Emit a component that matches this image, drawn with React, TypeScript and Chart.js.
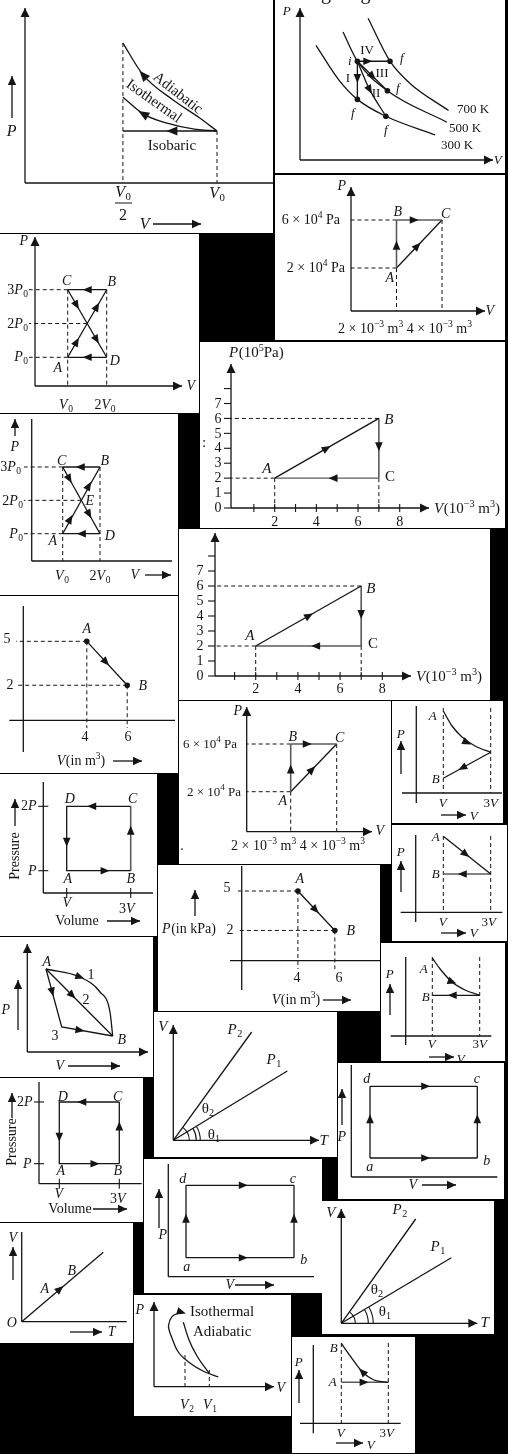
import React, { useEffect, useRef } from "react";
import { Chart, registerables } from "chart.js";
Chart.register(...registerables);

type Pt = [number, number];
type Q = { x?: number; y?: number; px?: number; py?: number };

// ---------------- DATA (in each diagram's own units) ----------------
// Panel 1: V in units of V0, P in units of the initial pressure
const p1Adiabatic: Pt[] = [[0.51, 2.69], [0.615, 2.08], [0.77, 1.6], [0.91, 1.25], [1, 1]];
const p1Isothermal: Pt[] = [[0.51, 1.65], [0.615, 1.33], [0.74, 1.15], [0.875, 1.04], [1, 1]];
const p1Isobaric: Pt[] = [[0.51, 1], [1, 1]];
// Panel 2: isotherms and processes (schematic units)
const p2Iso300: Pt[] = [[1.33, 11.67], [3.73, 8], [5.62, 6], [8.57, 4.23], [13.67, 2.27]];
const p2Iso500: Pt[] = [[4.13, 13.07], [5.62, 10], [8.73, 6.9], [14.9, 3.6]];
const p2Iso700: Pt[] = [[6.73, 14.5], [9, 10], [11.07, 7.67], [15.07, 4.83]];
const p2ProcI: Pt[] = [[5.62, 10], [5.62, 6]];
const p2ProcII: Pt[] = [[5.62, 10], [6.9, 7.0], [8.57, 4.23]];
const p2ProcIII: Pt[] = [[5.62, 10], [8.73, 6.9]];
const p2ProcIV: Pt[] = [[5.62, 10], [9, 10]];
const p2States: Pt[] = [[5.62, 10], [9, 10], [8.73, 6.9], [5.62, 6], [8.57, 4.23]];
// Panel 3: V (1e-3 m3), P (1e4 Pa)
const p3AB: Pt[] = [[2, 2], [2, 6]];
const p3BC: Pt[] = [[2, 6], [4, 6]];
const p3AC: Pt[] = [[2, 2], [4, 6]];
// Panel 4: V (V0), P (P0)
const p4CB: Pt[] = [[2, 3], [1, 3]];
const p4DA: Pt[] = [[2, 1], [1, 1]];
const p4AB: Pt[] = [[1, 1], [2, 3]];
const p4CD: Pt[] = [[1, 3], [2, 1]];
// Panel 5: V (1e-3 m3), P (1e5 Pa)
const p5AB: Pt[] = [[2, 2], [7, 6]];
const p5BC: Pt[] = [[7, 6], [7, 2]];
const p5CA: Pt[] = [[7, 2], [2, 2]];
const p5YTicks = [0, 1, 2, 3, 4, 5, 6, 7, 8];
const p5YLabels = ["0", "1", "2", "3", "4", "5", "6", "7", ""];
const p5XTicks = [1, 2, 3, 4, 5, 6, 7, 8];
const p5XLabels = ["", "2", "", "4", "", "6", "", "8"];
// Panel 6: V (V0), P (P0)
const p6CB: Pt[] = [[2, 3], [1, 3]];
const p6DA: Pt[] = [[2, 1], [1, 1]];
const p6AB: Pt[] = [[1, 1], [2, 3]];
const p6CD: Pt[] = [[1, 3], [2, 1]];
// Panel 7
const p7AB: Pt[] = [[2, 2], [7, 6]];
const p7BC: Pt[] = [[7, 6], [7, 2]];
const p7CA: Pt[] = [[7, 2], [2, 2]];
const p7YTicks = [0, 1, 2, 3, 4, 5, 6, 7, 8];
const p7YLabels = ["0", "1", "2", "3", "4", "5", "6", "7", ""];
const p7XTicks = [1, 2, 3, 4, 5, 6, 7, 8];
const p7XLabels = ["", "2", "", "4", "", "6", "", "8"];
// Panel 8: V (m3), P
const p8AB: Pt[] = [[4, 5], [6, 2]];
// Panel 9: V (1e-3 m3), P (1e4 Pa)
const p9AB: Pt[] = [[2, 2], [2, 6]];
const p9BC: Pt[] = [[2, 6], [4, 6]];
const p9AC: Pt[] = [[2, 2], [4, 6]];
// Panel 10: V (V), P schematic
const p10Curve: Pt[] = [[1, 8.2], [1.37, 6.7], [1.79, 5.6], [2.34, 4.7], [3, 4.07]];
const p10Line: Pt[] = [[3, 4.07], [1, 1.47]];
// Panel 11: V (V), P (P)
const p11Cycle: Pt[] = [[3, 2], [1, 2], [1, 1], [3, 1]];
const p11BC: Pt[] = [[3, 1], [3, 2]];
// Panel 12
const p12AL: Pt[] = [[1, 7.6], [3, 3.83]];
const p12LB: Pt[] = [[3, 3.83], [1, 3.83]];
// Panel 13: V (m3), P (kPa)
const p13AB: Pt[] = [[4, 5], [6, 2]];
// Panel 14: paths 1, 2, 3 (schematic)
const p14Path1: Pt[] = [[1.87, 8.3], [5.27, 7.5], [7.27, 6.0], [8.27, 4.0], [8.54, 1.6]];
const p14Path2: Pt[] = [[1.87, 8.3], [8.54, 1.6]];
const p14Path3: Pt[] = [[1.87, 8.3], [3.44, 2.5], [8.54, 1.6]];
// Panel 15
const p15Curve: Pt[] = [[1, 7.8], [1.33, 6.7], [1.83, 5.4], [2.38, 4.6], [3, 4.07]];
const p15Line: Pt[] = [[3, 4.07], [1, 4.07]];
// Panel 16: V-T isobars
const p16P2: Pt[] = [[0, 0], [7.84, 10.83]];
const p16P1: Pt[] = [[0, 0], [11.4, 6.93]];
// Panel 17: rectangle cycle
const p17ab: Pt[] = [[1.87, 1.9], [12.6, 1.9]];
const p17bc: Pt[] = [[12.6, 1.9], [12.6, 9.07]];
const p17ad: Pt[] = [[1.87, 1.9], [1.87, 9.07]];
const p17dc: Pt[] = [[1.87, 9.07], [12.6, 9.07]];
// Panel 18
const p18Cycle: Pt[] = [[3, 2], [1, 2], [1, 1], [3, 1]];
const p18BC: Pt[] = [[3, 1], [3, 2]];
// Panel 19
const p19ab: Pt[] = [[1.77, 1.9], [12.57, 1.9]];
const p19bc: Pt[] = [[12.57, 1.9], [12.57, 9.14]];
const p19ad: Pt[] = [[1.77, 1.9], [1.77, 9.14]];
const p19dc: Pt[] = [[1.77, 9.14], [12.57, 9.14]];
// Panel 20
const p20P2: Pt[] = [[0, 0], [7.44, 10.43]];
const p20P1: Pt[] = [[0, 0], [11, 6.56]];
// Panel 21
const p21Line: Pt[] = [[0, 0], [8.16, 6.94]];
// Panel 22
const p22Adiabatic: Pt[] = [[2.93, 6.44], [3.5, 4.67], [4.3, 3.07], [5.53, 1.34]];
const p22Isothermal: Pt[] = [[1.6, 5.37], [2.3, 3.67], [3.6, 2.37], [5.1, 1.47], [6.43, 0.97]];
const p22Hook: Pt[] = [[1.6, 5.37], [1.45, 6.1], [1.8, 7.0], [2.5, 7.4]];
// Panel 23
const p23Curve: Pt[] = [[1, 8], [1.4, 6.66], [1.89, 5.16], [2.39, 4.33], [3, 4.1]];
const p23Line: Pt[] = [[1, 4.1], [3, 4.1]];

// ---------------- LAYOUT / STYLE ----------------
const INK = "#151515";
const GRAY = "#5a5a5a";
const FONT = '"Liberation Serif","DejaVu Serif",serif';

interface LineSpec { pts: Pt[]; dash?: boolean; color?: string; smooth?: number; mono?: boolean; w?: number }
interface ArrowSpec { at: Pt; d: Pt }
interface TextSpec { p: Pt; s: string; a?: "l" | "c" | "r"; r?: number; f?: number }
interface TickSpec { axis: "x" | "y"; vals: number[]; labels?: string[]; at: number; lo: number; hi: number; lab?: number }
interface ArcSpec { c: Pt; r: number; p1: Pt; p2: Pt }
interface Panel {
  box: [number, number, number, number];
  xc: [number, number, number, number];
  yc: [number, number, number, number];
  fs: number;
  ah?: [number, number];
  lines: LineSpec[];
  dots?: Pt[];
  arrows?: ArrowSpec[];
  guides?: [Q, Q][];
  axes?: { a: Pt; b: Pt; arrow?: boolean }[];
  labelArrows?: [Pt, Pt][];
  bars?: [Pt, Pt][];
  ticks?: TickSpec[];
  arcs?: ArcSpec[];
  texts: TextSpec[];
}

const PANELS: Panel[] = [
  // 1
  {
    box: [0, 0, 273, 233], xc: [25, 0, 217, 1], yc: [183, 0, 131, 1], fs: 16, ah: [11, 4.5],
    lines: [{ pts: p1Adiabatic, mono: true }, { pts: p1Isothermal, mono: true }, { pts: p1Isobaric }],
    arrows: [{ at: [0.615, 2.08], d: [-0.26, 1.09] }, { at: [0.615, 1.33], d: [-0.23, 0.5] }, { at: [0.765, 1], d: [-1, 0] }],
    guides: [[{ x: 0.51, y: 2.69 }, { x: 0.51, py: 183 }], [{ x: 1, y: 1 }, { x: 1, py: 183 }]],
    axes: [{ a: [25, 183], b: [25, 8], arrow: true }, { a: [25, 183], b: [273, 183] }],
    labelArrows: [[[153, 224], [201, 224]], [[12, 118], [12, 76]]],
    bars: [[[115, 203], [132, 203]]],
    texts: [
      { p: [123, 192], s: "~V~_{0}" }, { p: [123, 215], s: "2" }, { p: [217, 193], s: "~V~_{0}" },
      { p: [145, 224], s: "~V" }, { p: [12, 131], s: "~P" },
      { p: [178, 93], s: "Adiabatic", r: 38, f: 15 }, { p: [154, 101], s: "Isothermal", r: 35, f: 15 },
      { p: [172, 146], s: "Isobaric", f: 15 },
    ],
  },
  // 2
  {
    box: [275, 0, 505, 173], xc: [300, 0, 400, 10], yc: [160, 0, 60, 10], fs: 13,
    lines: [
      { pts: p2Iso300, mono: true }, { pts: p2Iso500, mono: true }, { pts: p2Iso700, mono: true },
      { pts: p2ProcI }, { pts: p2ProcII, smooth: 0.3 }, { pts: p2ProcIII }, { pts: p2ProcIV },
    ],
    dots: p2States,
    arrows: [{ at: [6.7, 10], d: [1, 0] }, { at: [5.62, 8.2], d: [0, -1] }, { at: [7.2, 8.42], d: [3.11, -3.1] }, { at: [6.9, 7.0], d: [1.2, -2.2] }],
    axes: [{ a: [300, 160], b: [300, 8], arrow: true }, { a: [300, 160], b: [493, 160], arrow: true }],
    texts: [
      { p: [359, -7], s: "ng diagram:", f: 20 },
      { p: [287, 11], s: "~P" }, { p: [498, 160], s: "~V" },
      { p: [457, 109], s: "700 K", a: "l" }, { p: [449, 128], s: "500 K", a: "l" }, { p: [441, 145], s: "300 K", a: "l" },
      { p: [367, 50], s: "IV" }, { p: [348, 78], s: "I" }, { p: [382, 73], s: "III" }, { p: [376, 93], s: "II" },
      { p: [350, 61], s: "~i" }, { p: [402, 58], s: "~f" }, { p: [398, 88], s: "~f" }, { p: [353, 113], s: "~f" }, { p: [386, 130], s: "~f" },
    ],
  },
  // 3
  {
    box: [275, 175, 505, 340], xc: [351, 0, 442, 4], yc: [268, 2, 220, 6], fs: 14,
    lines: [{ pts: p3AB, color: GRAY, w: 1.6 }, { pts: p3BC, color: GRAY, w: 1.6 }, { pts: p3AC }],
    arrows: [{ at: [2.78, 6], d: [1, 0] }, { at: [2, 3.9], d: [0, 1] }, { at: [2.92, 3.84], d: [1, 2] }],
    guides: [
      [{ x: 2, y: 6 }, { px: 351, y: 6 }], [{ x: 2, y: 2 }, { px: 351, y: 2 }],
      [{ x: 2, y: 2 }, { x: 2, py: 311 }], [{ x: 4, y: 6 }, { x: 4, py: 311 }],
    ],
    axes: [{ a: [351, 311], b: [351, 187], arrow: true }, { a: [351, 311], b: [485, 311], arrow: true }],
    texts: [
      { p: [340, 220], s: "6 × 10^{4} Pa", a: "r" }, { p: [345, 268], s: "2 × 10^{4} Pa", a: "r" },
      { p: [398, 212], s: "~B" }, { p: [446, 214], s: "~C" }, { p: [390, 278], s: "~A" },
      { p: [342, 186], s: "~P" }, { p: [490, 311], s: "~V" },
      { p: [405, 329], s: "2 × 10^{−3} m^{3} 4 × 10^{−3} m^{3}" },
    ],
  },
  // 4
  {
    box: [0, 234, 199, 413], xc: [67.7, 1, 106.7, 2], yc: [357.3, 1, 289.7, 3], fs: 14,
    lines: [{ pts: p4CB }, { pts: p4DA }, { pts: p4AB }, { pts: p4CD }],
    arrows: [
      { at: [1.5, 3], d: [-1, 0] }, { at: [1.5, 1], d: [-1, 0] },
      { at: [1.23, 1.46], d: [1, 2] }, { at: [1.75, 2.5], d: [1, 2] },
      { at: [1.23, 2.54], d: [1, -2] }, { at: [1.74, 1.52], d: [1, -2] },
    ],
    guides: [
      [{ x: 1, y: 3 }, { px: 29, y: 3 }], [{ x: 1.5, y: 2 }, { px: 29, y: 2 }], [{ x: 1, y: 1 }, { px: 29, y: 1 }],
      [{ x: 1, y: 3 }, { x: 1, py: 386 }], [{ x: 2, y: 3 }, { x: 2, py: 386 }],
    ],
    axes: [{ a: [35, 386], b: [35, 237], arrow: true }, { a: [35, 386], b: [182, 386], arrow: true }],
    texts: [
      { p: [28, 290], s: "3~P~_{0}", a: "r" }, { p: [28, 324], s: "2~P~_{0}", a: "r" }, { p: [28, 357], s: "~P~_{0}", a: "r" },
      { p: [67, 281], s: "~C" }, { p: [112, 282], s: "~B" }, { p: [58, 368], s: "~A" }, { p: [115, 361], s: "~D" },
      { p: [66, 405], s: "~V~_{0}" }, { p: [105, 405], s: "2~V~_{0}" }, { p: [191, 386], s: "~V" }, { p: [24, 241], s: "~P" },
    ],
  },
  // 5
  {
    box: [200, 342, 505, 528], xc: [274.7, 2, 399.7, 8], yc: [508, 0, 403.5, 7], fs: 15,
    lines: [{ pts: p5AB }, { pts: p5BC, color: GRAY, w: 1.6 }, { pts: p5CA, color: GRAY, w: 1.4 }],
    arrows: [{ at: [4.5, 4], d: [5, 4] }, { at: [7, 4.1], d: [0, -1] }, { at: [4.8, 2], d: [-1, 0] }],
    guides: [
      [{ x: 7, y: 6 }, { px: 231, y: 6 }], [{ x: 2, y: 2 }, { px: 231, y: 2 }],
      [{ x: 2, y: 2 }, { x: 2, py: 508 }], [{ x: 7, y: 2 }, { x: 7, py: 508 }],
    ],
    axes: [{ a: [231, 508], b: [231, 364], arrow: true }, { a: [231, 508], b: [429, 508], arrow: true }],
    ticks: [
      { axis: "y", vals: p5YTicks, labels: p5YLabels, at: 231, lo: -7, hi: 0, lab: 218 },
      { axis: "x", vals: p5XTicks, labels: p5XLabels, at: 508, lo: -4, hi: 4, lab: 522 },
    ],
    texts: [
      { p: [229, 353], s: "~P~(10^{5}Pa)", a: "l" }, { p: [434, 509], s: "~V~(10^{−3} m^{3})", a: "l" },
      { p: [267, 469], s: "~A" }, { p: [389, 420], s: "~B" }, { p: [390, 477], s: "C" }, { p: [204, 443], s: ":" },
    ],
  },
  // 6
  {
    box: [0, 414, 178, 595], xc: [62.7, 1, 100, 2], yc: [533.7, 1, 467, 3], fs: 14,
    lines: [{ pts: p6CB }, { pts: p6DA }, { pts: p6AB }, { pts: p6CD }],
    arrows: [
      { at: [1.47, 3], d: [-1, 0] }, { at: [1.5, 1], d: [-1, 0] },
      { at: [1.2, 1.44], d: [1, 2] }, { at: [1.7, 2.44], d: [1, 2] },
      { at: [1.18, 2.64], d: [1, -2] }, { at: [1.71, 1.58], d: [1, -2] },
    ],
    guides: [
      [{ x: 1, y: 3 }, { px: 24, y: 3 }], [{ x: 1.5, y: 2 }, { px: 24, y: 2 }], [{ x: 1, y: 1 }, { px: 24, y: 1 }],
      [{ x: 1, y: 3 }, { x: 1, py: 561 }], [{ x: 2, y: 3 }, { x: 2, py: 561 }],
    ],
    axes: [{ a: [31.7, 561], b: [31.7, 419] }, { a: [31.7, 561], b: [172, 561] }],
    labelArrows: [[[145, 575], [171, 575]], [[15, 436], [15, 419]]],
    texts: [
      { p: [21, 467], s: "3~P~_{0}", a: "r" }, { p: [23, 501], s: "2~P~_{0}", a: "r" }, { p: [23, 534], s: "~P~_{0}", a: "r" },
      { p: [62, 461], s: "~C" }, { p: [105, 461], s: "~B" }, { p: [53, 541], s: "~A" }, { p: [110, 536], s: "~D" },
      { p: [90, 501], s: "~E" }, { p: [62, 576], s: "~V~_{0}" }, { p: [100, 576], s: "2~V~_{0}" },
      { p: [135, 575], s: "~V" }, { p: [15, 447], s: "~P" },
    ],
  },
  // 7
  {
    box: [179, 529, 490, 700], xc: [255.7, 2, 382.3, 8], yc: [676, 0, 571, 7], fs: 15,
    lines: [{ pts: p7AB }, { pts: p7BC, color: GRAY, w: 1.6 }, { pts: p7CA, color: GRAY, w: 1.4 }],
    arrows: [{ at: [4.53, 4.02], d: [5, 4] }, { at: [7, 4.1], d: [0, -1] }, { at: [4.84, 2], d: [-1, 0] }],
    guides: [
      [{ x: 7, y: 6 }, { px: 215, y: 6 }], [{ x: 2, y: 2 }, { px: 215, y: 2 }],
      [{ x: 2, y: 2 }, { x: 2, py: 676 }], [{ x: 7, y: 2 }, { x: 7, py: 676 }],
    ],
    axes: [{ a: [215, 676], b: [215, 533], arrow: true }, { a: [215, 676], b: [411, 676], arrow: true }],
    ticks: [
      { axis: "y", vals: p7YTicks, labels: p7YLabels, at: 215, lo: -7, hi: 0, lab: 200 },
      { axis: "x", vals: p7XTicks, labels: p7XLabels, at: 676, lo: -4, hi: 4, lab: 689 },
    ],
    texts: [
      { p: [250, 636], s: "~A" }, { p: [371, 589], s: "~B" }, { p: [373, 644], s: "C" },
      { p: [416, 677], s: "~V~(10^{−3} m^{3})", a: "l" },
    ],
  },
  // 8
  {
    box: [0, 596, 178, 773], xc: [86.7, 4, 129, 6], yc: [639.3, 5, 685.3, 2], fs: 14,
    lines: [{ pts: p8AB }],
    dots: p8AB,
    arrows: [{ at: [4.95, 3.58], d: [2, -3] }],
    guides: [
      [{ x: 4, y: 5 }, { px: 16, y: 5 }], [{ x: 6, y: 2 }, { px: 16, y: 2 }],
      [{ x: 4, y: 5 }, { x: 4, py: 728 }], [{ x: 6, y: 2 }, { x: 6, py: 728 }],
    ],
    axes: [{ a: [23.3, 606], b: [23.3, 752] }, { a: [9.3, 720.3], b: [175, 720.3] }],
    labelArrows: [[[113, 761], [142, 761]]],
    texts: [
      { p: [7, 639], s: "5" }, { p: [10, 685], s: "2" }, { p: [87, 629], s: "~A" }, { p: [143, 686], s: "~B" },
      { p: [85, 737], s: "4" }, { p: [128, 737], s: "6" }, { p: [81, 761], s: "~V~(in m^{3})" },
    ],
  },
  // 9
  {
    box: [179, 701, 391, 864], xc: [290.7, 2, 336.7, 4], yc: [791.7, 2, 744, 6], fs: 14,
    lines: [{ pts: p9AB, color: GRAY, w: 1.6 }, { pts: p9BC, color: GRAY, w: 1.6 }, { pts: p9AC }],
    arrows: [{ at: [2.72, 6], d: [1, 0] }, { at: [2, 3.9], d: [0, 1] }, { at: [2.93, 3.86], d: [1, 2] }],
    guides: [
      [{ x: 2, y: 6 }, { px: 246.7, y: 6 }], [{ x: 2, y: 2 }, { px: 246.7, y: 2 }],
      [{ x: 2, y: 2 }, { x: 2, py: 831.7 }], [{ x: 4, y: 6 }, { x: 4, py: 831.7 }],
    ],
    axes: [{ a: [246.7, 831.7], b: [246.7, 707], arrow: true }, { a: [246.7, 831.7], b: [372, 831.7], arrow: true }],
    texts: [
      { p: [237, 744], s: "6 × 10^{4} Pa", a: "r", f: 13 }, { p: [241, 792], s: "2 × 10^{4} Pa", a: "r", f: 13 },
      { p: [293, 737], s: "~B" }, { p: [340, 738], s: "~C" }, { p: [283, 801], s: "~A" },
      { p: [238, 711], s: "~P" }, { p: [380, 831], s: "~V" },
      { p: [298, 846], s: "2 × 10^{−3} m^{3} 4 × 10^{−3} m^{3}" }, { p: [182, 846], s: "." },
    ],
  },
  // 10
  {
    box: [392, 701, 503, 823], xc: [443.3, 1, 490.7, 3], yc: [793, 0, 743, 5], fs: 13,
    lines: [{ pts: p10Curve, mono: true }, { pts: p10Line }],
    arrows: [{ at: [2.0, 5.05], d: [1, -1.1] }, { at: [1.8, 2.51], d: [-2, -2.6] }],
    guides: [[{ x: 1, py: 708 }, { x: 1, py: 793 }], [{ x: 3, py: 708 }, { x: 3, py: 793 }]],
    axes: [{ a: [416.3, 706], b: [416.3, 803] }, { a: [402, 793], b: [502, 793] }],
    labelArrows: [[[441, 815], [466, 815]], [[401, 774], [401, 741]]],
    texts: [
      { p: [433, 716], s: "~A" }, { p: [436, 779], s: "~B" }, { p: [443, 803], s: "~V" }, { p: [491, 803], s: "3~V" },
      { p: [474, 816], s: "~V" }, { p: [401, 734], s: "~P" },
    ],
  },
  // 11
  {
    box: [0, 774, 157, 936], xc: [66.7, 1, 130.7, 3], yc: [870.7, 1, 806.3, 2], fs: 14,
    lines: [{ pts: p11Cycle }, { pts: p11BC, color: GRAY, w: 1.6 }],
    arrows: [{ at: [1.78, 2], d: [-1, 0] }, { at: [1, 1.44], d: [0, -1] }, { at: [2.2, 1], d: [1, 0] }, { at: [3, 1.63], d: [0, 1] }],
    axes: [{ a: [43.3, 893], b: [43.3, 782] }, { a: [43.3, 893], b: [153, 893] }],
    ticks: [
      { axis: "y", vals: [1, 2], at: 43.3, lo: -5, hi: 5 },
      { axis: "x", vals: [1, 3], at: 893, lo: -5, hi: 5 },
    ],
    labelArrows: [[[107, 921], [140, 921]], [[15, 826], [15, 799]]],
    texts: [
      { p: [37, 806], s: "2~P", a: "r" }, { p: [37, 871], s: "~P", a: "r" },
      { p: [70, 799], s: "~D" }, { p: [133, 799], s: "~C" }, { p: [68, 879], s: "~A" }, { p: [131, 879], s: "~B" },
      { p: [67, 903], s: "~V" }, { p: [127, 909], s: "3~V" }, { p: [77, 921], s: "Volume" },
      { p: [15, 856], s: "Pressure", r: -90 },
    ],
  },
  // 12
  {
    box: [392, 825, 507, 941], xc: [443.3, 1, 490.7, 3], yc: [912.3, 0, 862.3, 5], fs: 13,
    lines: [{ pts: p12AL }, { pts: p12LB, color: GRAY, w: 1.6 }],
    arrows: [{ at: [1.95, 5.8], d: [2, -3.77] }, { at: [1.8, 3.83], d: [-1, 0] }],
    guides: [[{ x: 1, py: 836 }, { x: 1, py: 912 }], [{ x: 3, py: 836 }, { x: 3, py: 912 }]],
    axes: [{ a: [415.7, 835], b: [415.7, 922] }, { a: [400.7, 912.3], b: [502.3, 912.3] }],
    labelArrows: [[[441, 933], [466, 933]], [[401, 892], [401, 861]]],
    texts: [
      { p: [436, 837], s: "~A" }, { p: [436, 874], s: "~B" }, { p: [443, 922], s: "~V" }, { p: [489, 922], s: "3~V" },
      { p: [474, 933], s: "~V" }, { p: [401, 852], s: "~P" },
    ],
  },
  // 13
  {
    box: [158, 865, 380, 1011], xc: [299, 4, 337.3, 6], yc: [888.3, 5, 930, 2], fs: 14,
    lines: [{ pts: p13AB }],
    dots: p13AB,
    arrows: [{ at: [4.96, 3.56], d: [2, -3] }],
    guides: [
      [{ x: 4, y: 5 }, { px: 237, y: 5 }], [{ x: 6, y: 2 }, { px: 237, y: 2 }],
      [{ x: 4, y: 5 }, { x: 4, py: 969 }], [{ x: 6, y: 2 }, { x: 6, py: 969 }],
    ],
    axes: [{ a: [241.7, 866], b: [241.7, 990] }, { a: [230, 960.7], b: [380, 960.7] }],
    labelArrows: [[[195, 916], [195, 890]], [[323, 1000], [351, 1000]]],
    texts: [
      { p: [227, 888], s: "5" }, { p: [230, 930], s: "2" }, { p: [300, 879], s: "~A" }, { p: [351, 931], s: "~B" },
      { p: [189, 929], s: "~P~(in kPa)" }, { p: [297, 978], s: "4" }, { p: [339, 978], s: "6" },
      { p: [296, 1000], s: "~V~(in m^{3})" },
    ],
  },
  // 14
  {
    box: [0, 937, 153, 1077], xc: [27.3, 0, 127.3, 10], yc: [1052, 0, 952, 10], fs: 14,
    lines: [{ pts: p14Path1, mono: true }, { pts: p14Path2 }, { pts: p14Path3 }],
    arrows: [
      { at: [5.27, 7.5], d: [1, -0.35] }, { at: [4.5, 5.66], d: [1, -1] },
      { at: [2.49, 6.0], d: [1.57, -5.8] }, { at: [5.27, 2.18], d: [5.1, -0.9] },
    ],
    axes: [{ a: [27.3, 1052], b: [27.3, 944], arrow: true }, { a: [27.3, 1052], b: [148, 1052], arrow: true }],
    labelArrows: [[[18, 1030], [18, 980]], [[68, 1066], [120, 1066]]],
    texts: [
      { p: [91, 975], s: "1" }, { p: [86, 1000], s: "2" }, { p: [55, 1036], s: "3" },
      { p: [47, 962], s: "~A" }, { p: [122, 1040], s: "~B" }, { p: [6, 1010], s: "~P" }, { p: [60, 1066], s: "~V" },
    ],
  },
  // 15
  {
    box: [381, 943, 505, 1061], xc: [432.3, 1, 479.7, 3], yc: [1036, 0, 986, 5], fs: 13,
    lines: [{ pts: p15Curve, mono: true }, { pts: p15Line }],
    arrows: [{ at: [1.84, 5.4], d: [1, -0.9] }, { at: [1.84, 4.07], d: [-1, 0] }],
    guides: [[{ x: 1, py: 957 }, { x: 1, py: 1036 }], [{ x: 3, py: 957 }, { x: 3, py: 1036 }]],
    axes: [{ a: [405.7, 957], b: [405.7, 1045] }, { a: [390.7, 1036], b: [491.3, 1036] }],
    labelArrows: [[[429, 1057], [454, 1057]], [[390, 1015], [390, 984]]],
    texts: [
      { p: [424, 969], s: "~A" }, { p: [426, 997], s: "~B" }, { p: [432, 1044], s: "~V" }, { p: [480, 1044], s: "3~V" },
      { p: [461, 1059], s: "~V" }, { p: [390, 974], s: "~P" },
    ],
  },
  // 16
  {
    box: [154, 1012, 337, 1157], xc: [173.3, 0, 273.3, 10], yc: [1140.3, 0, 1040.3, 10], fs: 15,
    lines: [{ pts: p16P2 }, { pts: p16P1 }],
    arcs: [
      { c: [0, 0], r: 16, p1: [10, 0], p2: [7.84, 10.83] },
      { c: [0, 0], r: 23, p1: [10, 0], p2: [11.4, 6.93] },
      { c: [0, 0], r: 27, p1: [10, 0], p2: [11.4, 6.93] },
    ],
    axes: [{ a: [173.3, 1140.3], b: [173.3, 1025], arrow: true }, { a: [173.3, 1140.3], b: [319, 1140.3], arrow: true }],
    texts: [
      { p: [235, 1030], s: "~P~_{2}" }, { p: [274, 1060], s: "~P~_{1}" }, { p: [208, 1109], s: "θ_{2}" },
      { p: [214, 1135], s: "θ_{1}" }, { p: [163, 1027], s: "~V" }, { p: [324, 1141], s: "~T" },
    ],
  },
  // 17
  {
    box: [338, 1063, 504, 1199], xc: [351.3, 0, 451.3, 10], yc: [1177, 0, 1077, 10], fs: 14,
    lines: [{ pts: p17ab }, { pts: p17bc }, { pts: p17ad }, { pts: p17dc }],
    arrows: [{ at: [7.44, 9.07], d: [1, 0] }, { at: [7.44, 1.9], d: [1, 0] }, { at: [1.87, 5.83], d: [0, 1] }, { at: [12.6, 5.83], d: [0, 1] }],
    axes: [{ a: [351.3, 1177], b: [351.3, 1065] }, { a: [351.3, 1177], b: [497.3, 1177] }],
    labelArrows: [[[342, 1125], [342, 1089]], [[422, 1185], [456, 1185]]],
    texts: [
      { p: [367, 1079], s: "~d" }, { p: [477, 1079], s: "~c" }, { p: [370, 1167], s: "~a" }, { p: [487, 1161], s: "~b" },
      { p: [342, 1137], s: "~P" }, { p: [413, 1185], s: "~V" },
    ],
  },
  // 18
  {
    box: [0, 1078, 143, 1222], xc: [59.3, 1, 119.3, 3], yc: [1163.7, 1, 1102, 2], fs: 14,
    lines: [{ pts: p18Cycle }, { pts: p18BC }],
    arrows: [{ at: [1.75, 2], d: [-1, 0] }, { at: [1, 1.43], d: [0, -1] }, { at: [2.19, 1], d: [1, 0] }, { at: [3, 1.61], d: [0, 1] }],
    axes: [{ a: [39, 1183.7], b: [39, 1082] }, { a: [39, 1183.7], b: [141.7, 1183.7] }],
    ticks: [
      { axis: "y", vals: [1, 2], at: 39, lo: -5, hi: 5 },
      { axis: "x", vals: [1, 3], at: 1183.7, lo: -5, hi: 5 },
    ],
    labelArrows: [[[93, 1209], [127, 1209]], [[12, 1118], [12, 1093]]],
    texts: [
      { p: [33, 1102], s: "2~P", a: "r" }, { p: [32, 1164], s: "~P", a: "r" },
      { p: [63, 1097], s: "~D" }, { p: [118, 1097], s: "~C" }, { p: [61, 1171], s: "~A" }, { p: [118, 1171], s: "~B" },
      { p: [59, 1194], s: "~V" }, { p: [118, 1199], s: "3~V" }, { p: [70, 1209], s: "Volume" },
      { p: [12, 1142], s: "Pressure", r: -90 },
    ],
  },
  // 19
  {
    box: [144, 1159, 322, 1293], xc: [168.3, 0, 268.3, 10], yc: [1276.7, 0, 1176.7, 10], fs: 14,
    lines: [{ pts: p19ab }, { pts: p19bc }, { pts: p19ad }, { pts: p19dc }],
    arrows: [{ at: [7.5, 9.14], d: [1, 0] }, { at: [7.5, 1.9], d: [1, 0] }, { at: [1.77, 5.84], d: [0, 1] }, { at: [12.57, 5.84], d: [0, 1] }],
    axes: [{ a: [168.3, 1276.7], b: [168.3, 1164] }, { a: [168.3, 1276.7], b: [314, 1276.7] }],
    labelArrows: [[[159, 1228], [159, 1189]], [[235, 1285], [274, 1285]]],
    texts: [
      { p: [183, 1179], s: "~d" }, { p: [293, 1179], s: "~c" }, { p: [187, 1267], s: "~a" }, { p: [304, 1260], s: "~b" },
      { p: [163, 1235], s: "~P" }, { p: [230, 1285], s: "~V" },
    ],
  },
  // 20
  {
    box: [322, 1201, 494, 1334], xc: [341.3, 0, 441.3, 10], yc: [1323.3, 0, 1223.3, 10], fs: 15,
    lines: [{ pts: p20P2 }, { pts: p20P1 }],
    arcs: [
      { c: [0, 0], r: 14, p1: [10, 0], p2: [7.44, 10.43] },
      { c: [0, 0], r: 27, p1: [10, 0], p2: [11, 6.56] },
      { c: [0, 0], r: 32, p1: [10, 0], p2: [11, 6.56] },
    ],
    axes: [{ a: [341.3, 1323.3], b: [341.3, 1209], arrow: true }, { a: [341.3, 1323.3], b: [477.3, 1323.3], arrow: true }],
    texts: [
      { p: [400, 1210], s: "~P~_{2}" }, { p: [438, 1247], s: "~P~_{1}" }, { p: [377, 1290], s: "θ_{2}" },
      { p: [385, 1312], s: "θ_{1}" }, { p: [331, 1213], s: "~V" }, { p: [485, 1323], s: "~T" },
    ],
  },
  // 21
  {
    box: [0, 1223, 133, 1343], xc: [21.7, 0, 121.7, 10], yc: [1321.7, 0, 1221.7, 10], fs: 14,
    lines: [{ pts: p21Line }],
    arrows: [{ at: [3.83, 3.27], d: [8.16, 6.94] }],
    axes: [{ a: [21.7, 1321.7], b: [21.7, 1232] }, { a: [21.7, 1321.7], b: [126.7, 1321.7] }],
    labelArrows: [[[13, 1280], [13, 1247]], [[70, 1332], [102, 1332]]],
    texts: [
      { p: [45, 1289], s: "~A" }, { p: [72, 1271], s: "~B" }, { p: [13, 1238], s: "~V" },
      { p: [12, 1323], s: "~O" }, { p: [112, 1332], s: "~T" },
    ],
  },
  // 22
  {
    box: [134, 1295, 291, 1416], xc: [154, 0, 254, 10], yc: [1386.7, 0, 1286.7, 10], fs: 14,
    lines: [{ pts: p22Adiabatic, mono: true }, { pts: p22Isothermal, mono: true }, { pts: p22Hook, smooth: 0.4 }],
    arrows: [{ at: [2.75, 7.45], d: [1, -0.3] }],
    guides: [[{ x: 3.1, py: 1355 }, { x: 3.1, py: 1386.7 }], [{ x: 5.53, py: 1370 }, { x: 5.53, py: 1386.7 }]],
    axes: [{ a: [154, 1386.7], b: [154, 1302], arrow: true }, { a: [154, 1386.7], b: [274, 1386.7], arrow: true }],
    texts: [
      { p: [140, 1310], s: "~P" }, { p: [281, 1388], s: "~V" }, { p: [187, 1405], s: "~V~_{2}" }, { p: [210, 1405], s: "~V~_{1}" },
      { p: [190, 1312], s: "Isothermal", a: "l", f: 15 }, { p: [193, 1332], s: "Adiabatic", a: "l", f: 15 },
    ],
  },
  // 23
  {
    box: [292, 1337, 415, 1453], xc: [341.3, 1, 388.3, 3], yc: [1423.3, 0, 1373.3, 5], fs: 13,
    lines: [{ pts: p23Curve, mono: true }, { pts: p23Line, color: GRAY, w: 1.6 }],
    arrows: [{ at: [1.89, 5.16], d: [-0.99, 2.33] }, { at: [1.97, 4.1], d: [1, 0] }],
    guides: [[{ x: 1, py: 1343 }, { x: 1, py: 1423.3 }], [{ x: 3, py: 1343 }, { x: 3, py: 1423.3 }]],
    axes: [{ a: [313.3, 1345], b: [313.3, 1433.3] }, { a: [300, 1423.3], b: [400.7, 1423.3] }],
    labelArrows: [[[299, 1403], [299, 1370]], [[336, 1443], [363, 1443]]],
    texts: [
      { p: [334, 1348], s: "~B" }, { p: [333, 1382], s: "~A" }, { p: [299, 1362], s: "~P" },
      { p: [341, 1433], s: "~V" }, { p: [387, 1433], s: "3~V" }, { p: [371, 1445], s: "~V" },
    ],
  },
];

// ---------------- DRAWING HELPERS ----------------
function fontStr(size: number, it: boolean) {
  return `${it ? "italic " : ""}${size}px ${FONT}`;
}

function rich(ctx: CanvasRenderingContext2D, s: string, x: number, y: number, size: number, align: string, rot: number) {
  const runs: { t: string; it: boolean; k: number }[] = [];
  let it = false;
  let i = 0;
  while (i < s.length) {
    const ch = s[i];
    if (ch === "~") { it = !it; i++; continue; }
    if ((ch === "_" || ch === "^") && s[i + 1] === "{") {
      const j = s.indexOf("}", i);
      runs.push({ t: s.slice(i + 2, j), it: false, k: ch === "_" ? -1 : 1 });
      i = j + 1;
      continue;
    }
    let j = i;
    while (j < s.length && s[j] !== "~" && !((s[j] === "_" || s[j] === "^") && s[j + 1] === "{")) j++;
    runs.push({ t: s.slice(i, j), it, k: 0 });
    i = j;
  }
  const widths = runs.map((r) => {
    ctx.font = fontStr(r.k ? size * 0.68 : size, r.it);
    return ctx.measureText(r.t).width + (r.it && r.k === 0 ? 0.5 : 0);
  });
  const total = widths.reduce((a, b) => a + b, 0);
  ctx.save();
  ctx.translate(x, y);
  if (rot) ctx.rotate((rot * Math.PI) / 180);
  let cx = align === "l" ? 0 : align === "r" ? -total : -total / 2;
  ctx.textBaseline = "middle";
  ctx.textAlign = "left";
  ctx.fillStyle = INK;
  runs.forEach((r, idx) => {
    ctx.font = fontStr(r.k ? size * 0.68 : size, r.it);
    const dy = r.k === -1 ? size * 0.28 : r.k === 1 ? -size * 0.36 : 0;
    ctx.fillText(r.t, cx, dy + 0.5);
    cx += widths[idx];
  });
  ctx.restore();
}

function tri(ctx: CanvasRenderingContext2D, tx: number, ty: number, ux: number, uy: number, len: number, hw: number) {
  const n = Math.hypot(ux, uy) || 1;
  ux /= n; uy /= n;
  const bx = tx - ux * len, by = ty - uy * len;
  ctx.beginPath();
  ctx.moveTo(tx, ty);
  ctx.lineTo(bx - uy * hw, by + ux * hw);
  ctx.lineTo(bx + uy * hw, by - ux * hw);
  ctx.closePath();
  ctx.fill();
}

function seg(ctx: CanvasRenderingContext2D, a: number, b: number, c: number, d: number) {
  ctx.beginPath();
  ctx.moveTo(a, b);
  ctx.lineTo(c, d);
  ctx.stroke();
}

function makeDeco(P: Panel) {
  const L = P.box[0], T = P.box[1];
  const [alen, ahw] = P.ah || [9, 3.8];
  return {
    id: "deco",
    beforeDatasetsDraw(chart: any) {
      const ctx: CanvasRenderingContext2D = chart.ctx;
      const sx = chart.scales.x, sy = chart.scales.y;
      const X = (q: Q) => (q.x !== undefined ? sx.getPixelForValue(q.x) : (q.px as number) - L);
      const Y = (q: Q) => (q.y !== undefined ? sy.getPixelForValue(q.y) : (q.py as number) - T);
      ctx.save();
      ctx.strokeStyle = INK;
      ctx.fillStyle = INK;
      ctx.lineWidth = 1;
      ctx.setLineDash([4, 3]);
      for (const [a, b] of P.guides || []) seg(ctx, X(a), Y(a), X(b), Y(b));
      ctx.setLineDash([]);
      ctx.lineWidth = 1.3;
      for (const ax of P.axes || []) {
        const x1 = ax.a[0] - L, y1 = ax.a[1] - T, x2 = ax.b[0] - L, y2 = ax.b[1] - T;
        seg(ctx, x1, y1, x2, y2);
        if (ax.arrow) tri(ctx, x2, y2, x2 - x1, y2 - y1, 9, 4.5);
      }
      ctx.lineWidth = 1.1;
      for (const t of P.ticks || []) {
        t.vals.forEach((v, i) => {
          if (t.axis === "x") {
            const px = sx.getPixelForValue(v);
            seg(ctx, px, t.at - T + t.lo, px, t.at - T + t.hi);
            if (t.labels && t.labels[i] && t.lab !== undefined) rich(ctx, t.labels[i], px, t.lab - T, P.fs - 1, "c", 0);
          } else {
            const py = sy.getPixelForValue(v);
            seg(ctx, t.at - L + t.lo, py, t.at - L + t.hi, py);
            if (t.labels && t.labels[i] && t.lab !== undefined) rich(ctx, t.labels[i], t.lab - L, py, P.fs - 1, "c", 0);
          }
        });
      }
      ctx.lineWidth = 1.1;
      for (const a of P.arcs || []) {
        const cx = sx.getPixelForValue(a.c[0]), cy = sy.getPixelForValue(a.c[1]);
        const a1 = Math.atan2(sy.getPixelForValue(a.p1[1]) - cy, sx.getPixelForValue(a.p1[0]) - cx);
        const a2 = Math.atan2(sy.getPixelForValue(a.p2[1]) - cy, sx.getPixelForValue(a.p2[0]) - cx);
        ctx.beginPath();
        ctx.arc(cx, cy, a.r, Math.min(a1, a2), Math.max(a1, a2));
        ctx.stroke();
      }
      ctx.restore();
    },
    afterDatasetsDraw(chart: any) {
      const ctx: CanvasRenderingContext2D = chart.ctx;
      const sx = chart.scales.x, sy = chart.scales.y;
      ctx.save();
      ctx.fillStyle = INK;
      ctx.strokeStyle = INK;
      for (const ar of P.arrows || []) {
        const px = sx.getPixelForValue(ar.at[0]), py = sy.getPixelForValue(ar.at[1]);
        const ux = sx.getPixelForValue(ar.at[0] + ar.d[0]) - px;
        const uy = sy.getPixelForValue(ar.at[1] + ar.d[1]) - py;
        const n = Math.hypot(ux, uy) || 1;
        tri(ctx, px + (ux / n) * alen * 0.5, py + (uy / n) * alen * 0.5, ux, uy, alen, ahw);
      }
      ctx.lineWidth = 1.3;
      for (const [a, b] of P.labelArrows || []) {
        const x1 = a[0] - L, y1 = a[1] - T, x2 = b[0] - L, y2 = b[1] - T;
        seg(ctx, x1, y1, x2, y2);
        tri(ctx, x2, y2, x2 - x1, y2 - y1, 9, 4.2);
      }
      ctx.lineWidth = 1;
      for (const [a, b] of P.bars || []) seg(ctx, a[0] - L, a[1] - T, b[0] - L, b[1] - T);
      for (const t of P.texts) rich(ctx, t.s, t.p[0] - L, t.p[1] - T, t.f || P.fs, t.a || "c", t.r || 0);
      ctx.restore();
    },
  };
}

function calib(c: [number, number, number, number], origin: number, size: number) {
  const [p1, v1, p2, v2] = c;
  const s = (v2 - v1) / (p2 - p1);
  const l1 = p1 - origin;
  return { a: v1 - l1 * s, b: v1 + (size - l1) * s };
}

function PanelView({ P }: { P: Panel }) {
  const ref = useRef<HTMLCanvasElement | null>(null);
  const [L, T, R, B] = P.box;
  const W = R - L, H = B - T;
  useEffect(() => {
    const cv = ref.current;
    if (!cv) return;
    const cx = calib(P.xc, L, W);
    const cy = calib(P.yc, T, H);
    const datasets: any[] = P.lines.map((ln) => ({
      data: ln.pts.map(([x, y]) => ({ x, y })),
      showLine: true,
      pointRadius: 0,
      borderWidth: ln.w || 1.3,
      borderColor: ln.color || INK,
      borderDash: ln.dash ? [4, 3] : [],
      tension: ln.smooth || 0,
      cubicInterpolationMode: ln.mono ? "monotone" : "default",
      fill: false,
      clip: false,
    }));
    if (P.dots) {
      datasets.push({
        data: P.dots.map(([x, y]) => ({ x, y })),
        showLine: false,
        pointRadius: 2.8,
        pointBackgroundColor: INK,
        pointBorderWidth: 0,
        clip: false,
      });
    }
    const chart = new Chart(cv, {
      type: "scatter",
      data: { datasets },
      options: {
        animation: false,
        responsive: false,
        devicePixelRatio: 1,
        events: [],
        layout: { padding: 0 },
        plugins: { legend: { display: false }, tooltip: { enabled: false } },
        scales: {
          x: { type: "linear", display: false, min: cx.a, max: cx.b },
          y: { type: "linear", display: false, min: cy.b, max: cy.a },
        },
      },
      plugins: [makeDeco(P) as any],
    } as any);
    return () => chart.destroy();
  }, []);
  return (
    <div style={{ position: "absolute", left: L, top: T, width: W, height: H, background: "#fff", overflow: "hidden" }}>
      <canvas ref={ref} width={W} height={H} style={{ display: "block", width: W, height: H }} />
    </div>
  );
}

export default function App() {
  return (
    <div style={{ position: "absolute", left: 0, top: 0, width: 508, height: 1454, background: "#000", overflow: "hidden" }}>
      {PANELS.map((P, i) => (
        <PanelView key={i} P={P} />
      ))}
    </div>
  );
}
